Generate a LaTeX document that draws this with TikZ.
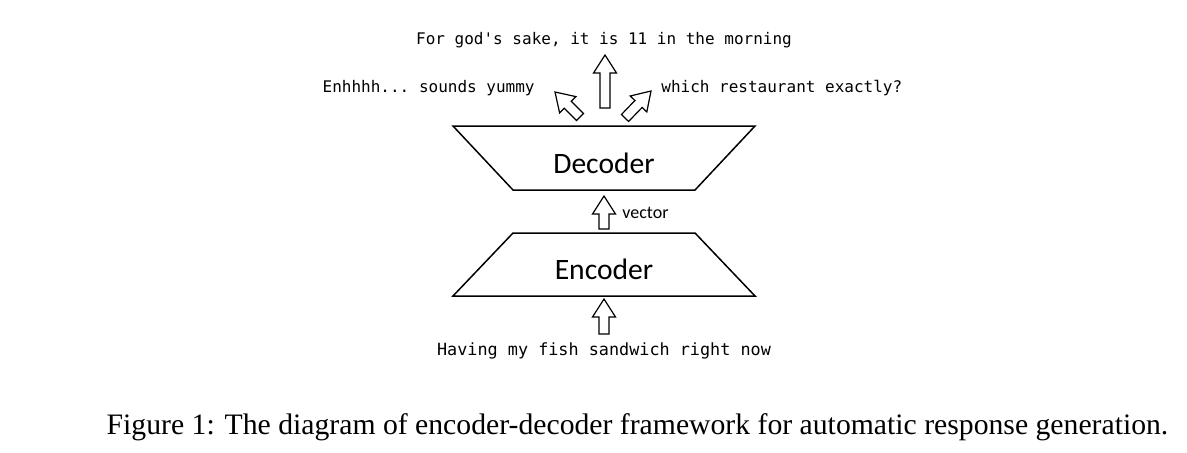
\documentclass[tikz,border=0pt]{standalone}
\usepackage{fontspec}
\setmainfont{Liberation Serif}
\setmonofont{DejaVu Sans Mono}
\newfontfamily\calfont{Carlito}
\usetikzlibrary{calc,positioning}

% hollow block arrow from #1 (tail) to #2 (tip)
\newcommand{\blockarrow}[2]{%
  \path (#1) coordinate (ba-t) (#2) coordinate (ba-h);
  \path ($(ba-h)!9pt!(ba-t)$) coordinate (ba-n);
  \draw[line width=0.6pt, line join=miter, fill=white]
    ($(ba-t)!2.5pt!90:(ba-h)$) -- ($(ba-n)!2.5pt!90:(ba-h)$)
    -- ($(ba-n)!5.75pt!90:(ba-h)$) -- (ba-h)
    -- ($(ba-n)!5.75pt!-90:(ba-h)$) -- ($(ba-n)!2.5pt!-90:(ba-h)$)
    -- ($(ba-t)!2.5pt!-90:(ba-h)$) -- cycle;
}

\begin{document}
\begin{tikzpicture}[x=0.5pt, y=-0.5pt, % one unit = one pixel of the reference, y downwards
  coder/.style={inner sep=0pt, font=\calfont\fontsize{14.8}{16}\selectfont},
  sent/.style={inner sep=0pt, font=\ttfamily\fontsize{8}{10}\selectfont}]

\useasboundingbox (0,0) rectangle (1187,452);

% Decoder (wide side up) and encoder (wide side down)
\def\wide{151} % half of the long side
\def\narrow{91} % half of the short side
\coordinate (decTop) at (604,126);
\coordinate (decBot) at (604,190);
\coordinate (encTop) at (604,233);
\coordinate (encBot) at (604,296);
\draw[line width=0.75pt] ($(decTop)+(-\wide,0)$) -- ($(decTop)+(\wide,0)$)
  -- ($(decBot)+(\narrow,0)$) -- ($(decBot)+(-\narrow,0)$) -- cycle;
\draw[line width=0.75pt] ($(encTop)+(-\narrow,0)$) -- ($(encTop)+(\narrow,0)$)
  -- ($(encBot)+(\wide,0)$) -- ($(encBot)+(-\wide,0)$) -- cycle;
\node[coder] (dec) at (604,163) {Decoder};
\node[coder] (enc) at (604,269) {Encoder};

% Input and responses
\node[sent, font=\ttfamily\fontsize{8.4}{10}\selectfont] (input) at (604,351) {Having my fish sandwich right now};
\node[sent] (morning) at (604,40) {For god's sake, it is 11 in the morning};
\node[sent, anchor=east] (yummy) at (535,88) {Enhhhh... sounds yummy};
\node[sent, anchor=west] (where) at (661,88) {which restaurant exactly?};

% Arrow ends
\coordinate (inT) at ($(encBot)+(0,38)$);
\coordinate (inH) at ($(encBot)+(0,3)$);
\coordinate (vecT) at ($(encTop)+(0,-4)$);
\coordinate (vecH) at ($(decBot)+(0,6)$);
\coordinate (midT) at ($(decTop)+(1,-18)$);
\coordinate (midH) at ($(decTop)+(1,-71)$);
\coordinate (leftT) at ($(decTop)+(-24,-9)$);
\coordinate (leftH) at ($(decTop)+(-49,-34)$);
\coordinate (rightT) at ($(decTop)+(21,-8)$);
\coordinate (rightH) at ($(decTop)+(47,-35)$);

% Block arrows
\blockarrow{inT}{inH}
\blockarrow{vecT}{vecH}
\blockarrow{midT}{midH}
\blockarrow{leftT}{leftH}
\blockarrow{rightT}{rightH}

\node[inner sep=0pt, anchor=west, font=\calfont\fontsize{9}{11}\selectfont] (vec) at (622,213) {vector};

% Caption
\node[inner sep=0pt, font=\fontsize{14.85}{17}\selectfont] (cap) at (637.5,427)
  {Figure 1: The diagram of encoder-decoder framework for automatic response generation.};
\end{tikzpicture}
\end{document}
